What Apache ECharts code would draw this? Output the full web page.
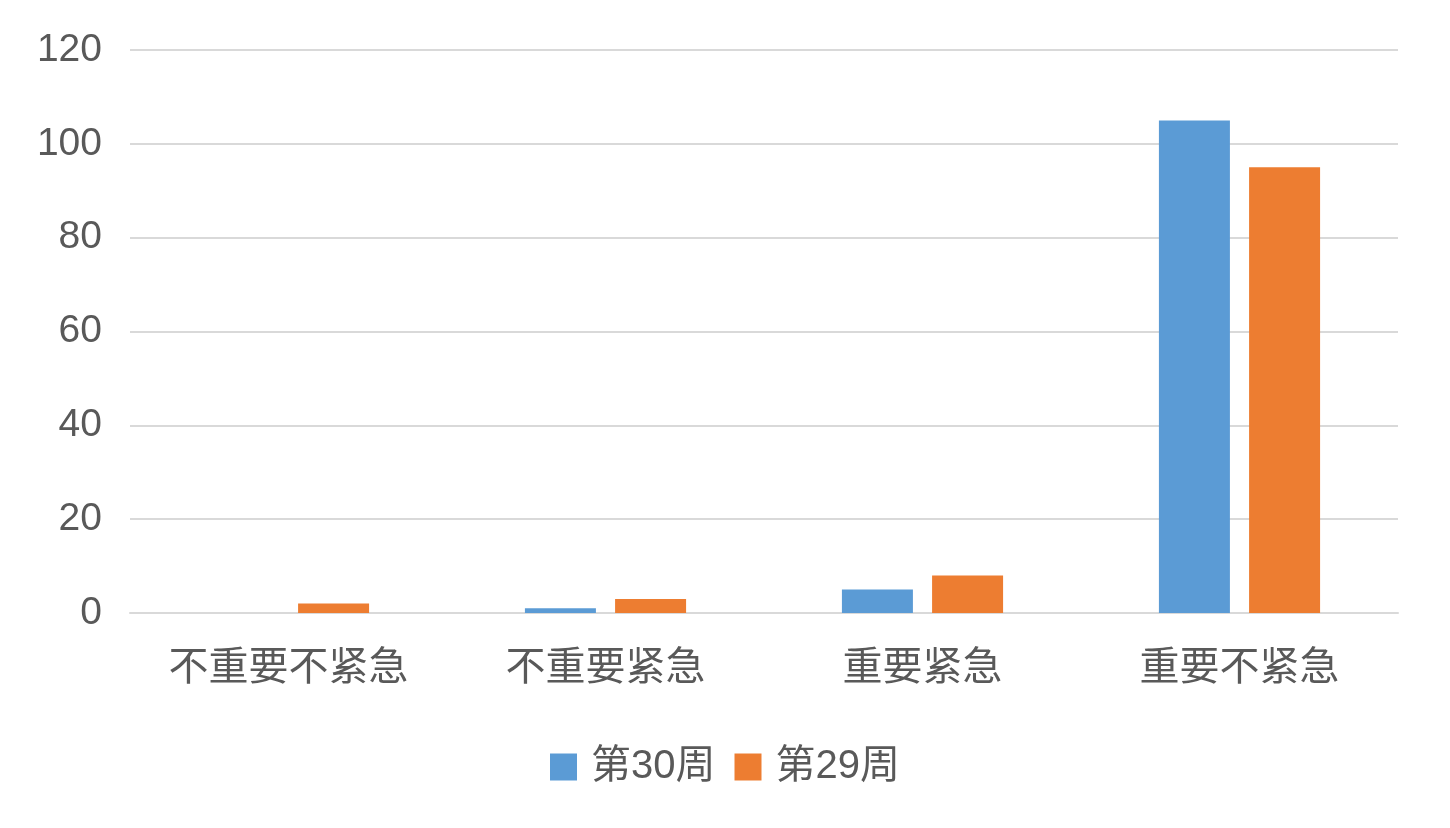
<!DOCTYPE html>
<html>
<head>
<meta charset="utf-8">
<script src="https://cdn.jsdelivr.net/npm/echarts@6/dist/echarts.min.js"></script>
<style>
html,body{margin:0;padding:0;background:#fff;}
#chart{width:1450px;height:828px;}
</style>
</head>
<body>
<div id="chart"></div>
<script>
const categories = ['不重要不紧急', '不重要紧急', '重要紧急', '重要不紧急'];
const week30 = [0, 1, 5, 105];
const week29 = [2, 3, 8, 95];
const seriesNames = ['第30周', '第29周'];

const chart = echarts.init(document.getElementById('chart'));
const textColor = '#595959';
chart.setOption({
  animation: false,
  grid: { left: 130, right: 52, top: 50, bottom: 215, containLabel: false },
  legend: {
    data: seriesNames,
    top: 742,
    left: 'center',
    icon: 'rect',
    itemWidth: 27,
    itemHeight: 27,
    itemGap: 19,
    textStyle: { fontSize: 40, color: textColor, padding: [0, 0, 0, 9], fontFamily: '"Liberation Sans","Noto Sans CJK SC",sans-serif' }
  },
  xAxis: {
    type: 'category',
    data: categories,
    axisLine: { lineStyle: { color: '#d9d9d9', width: 2 } },
    axisTick: { show: false },
    axisLabel: { fontSize: 40, color: textColor, margin: 32, fontFamily: '"Noto Sans CJK SC",sans-serif' }
  },
  yAxis: {
    type: 'value',
    min: 0, max: 120, interval: 20,
    axisLine: { show: false },
    axisTick: { show: false },
    splitLine: { lineStyle: { color: '#d9d9d9', width: 2 } },
    axisLabel: { fontSize: 39, color: textColor, margin: 28, fontFamily: '"Liberation Sans",sans-serif' }
  },
  series: [
    { name: seriesNames[0], type: 'bar', data: week30, barWidth: 71, barGap: '27%', itemStyle: { color: '#5B9BD5' } },
    { name: seriesNames[1], type: 'bar', data: week29, barWidth: 71, barGap: '27%', itemStyle: { color: '#ED7D31' } }
  ]
});
</script>
</body>
</html>
